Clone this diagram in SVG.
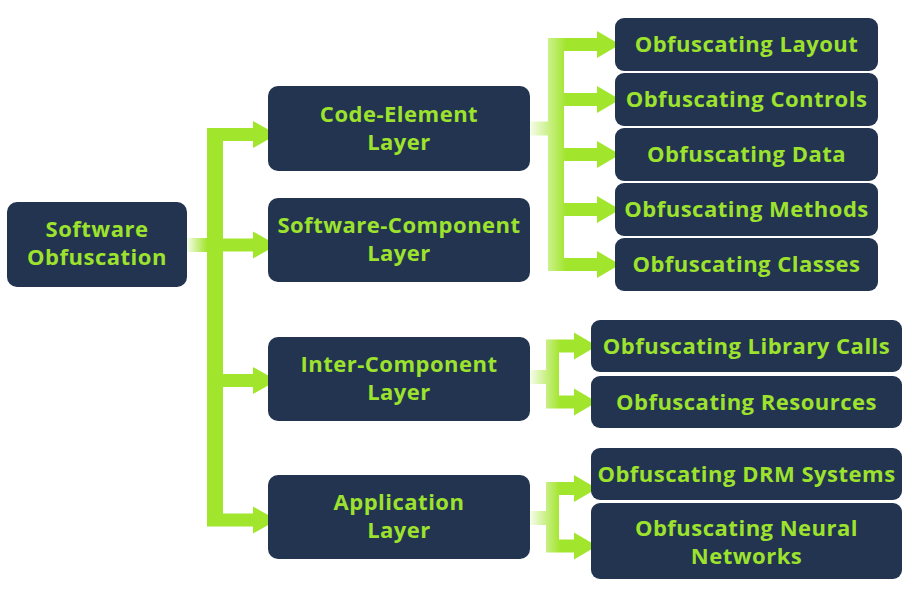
<svg xmlns="http://www.w3.org/2000/svg" width="920" height="596" viewBox="0 0 920 596">
<defs>
<linearGradient id="gRoot" gradientUnits="userSpaceOnUse" x1="187" y1="0" x2="207" y2="0">
<stop offset="0" stop-color="#a2e52d" stop-opacity="0.1"/><stop offset="1" stop-color="#a2e52d"/>
</linearGradient>
<linearGradient id="gR1" gradientUnits="userSpaceOnUse" x1="530" y1="0" x2="566" y2="0">
<stop offset="0" stop-color="#a2e52d" stop-opacity="0.1"/><stop offset="1" stop-color="#a2e52d"/>
</linearGradient>
<linearGradient id="gR2" gradientUnits="userSpaceOnUse" x1="530" y1="0" x2="560" y2="0">
<stop offset="0" stop-color="#a2e52d" stop-opacity="0.1"/><stop offset="1" stop-color="#a2e52d"/>
</linearGradient>
</defs>
<style>
.node rect{fill:#223450;}
.node text{fill:#9de22d;font-family:"Open Sans","Noto Sans","DejaVu Sans",sans-serif;font-weight:700;font-size:22px;letter-spacing:0.5px;text-anchor:middle;}
.solid{fill:#a2e52d;}
</style>
<rect width="920" height="596" fill="#ffffff"/>
<g id="connectors">
<rect x="187" y="238" width="20" height="14" fill="url(#gRoot)"/>
<path class="solid" d="M207 128 H223 V526.5 H207 Z
M223 128 H253 V141 H223 Z M253 121 L277 134.5 L253 148 Z
M223 238.5 H253 V251.5 H223 Z M253 231.5 L277 245 L253 258.5 Z
M223 374 H253 V387 H223 Z M253 367 L277 380.5 L253 394 Z
M223 513.5 H253 V526.5 H223 Z M253 506.5 L277 520 L253 533.5 Z"/>
<path fill="url(#gR1)" d="M530 121.5 H548 V135.5 H530 Z
M548 38 H564 V271 H548 Z
M564 38 H597 V51 H564 Z M597 31 L620 44.5 L597 58 Z
M564 93 H597 V106 H564 Z M597 86 L620 99.5 L597 113 Z
M564 148 H597 V161 H564 Z M597 141 L620 154.5 L597 168 Z
M564 203 H597 V216 H564 Z M597 196 L620 209.5 L597 223 Z
M564 258 H597 V271 H564 Z M597 251 L620 264.5 L597 278 Z"/>
<path fill="url(#gR2)" d="M530 370 H546 V384 H530 Z
M546 339.5 H559 V408.5 H546 Z
M559 339.5 H574 V352.5 H559 Z M574 332.5 L597 346 L574 359.5 Z
M559 395.5 H574 V408.5 H559 Z M574 388.5 L597 402 L574 415.5 Z
M530 511 H546 V525 H530 Z
M546 482 H559 V552.5 H546 Z
M559 482 H574 V495 H559 Z M574 475 L597 488.5 L574 502 Z
M559 539.5 H574 V552.5 H559 Z M574 532.5 L597 546 L574 559.5 Z"/>
</g>
<g id="root" class="node"><rect x="7" y="202" width="180" height="85" rx="10"/><text x="97" y="237">Software</text><text x="97" y="265">Obfuscation</text></g>
<g id="code-element" class="node"><rect x="268" y="86" width="262" height="85" rx="10"/><text x="399" y="122">Code-Element</text><text x="399" y="150">Layer</text></g>
<g id="software-component" class="node"><rect x="268" y="198" width="262" height="84" rx="10"/><text x="399" y="233">Software-Component</text><text x="399" y="261">Layer</text></g>
<g id="inter-component" class="node"><rect x="268" y="337" width="262" height="84" rx="10"/><text x="399" y="372">Inter-Component</text><text x="399" y="400">Layer</text></g>
<g id="application" class="node"><rect x="268" y="475" width="262" height="84" rx="10"/><text x="399" y="510">Application</text><text x="399" y="538">Layer</text></g>
<g id="layout" class="node"><rect x="615" y="18" width="263" height="53" rx="9"/><text x="746.5" y="52">Obfuscating Layout</text></g>
<g id="controls" class="node"><rect x="615" y="73" width="263" height="53" rx="9"/><text x="746.5" y="107">Obfuscating Controls</text></g>
<g id="data" class="node"><rect x="615" y="128" width="263" height="53" rx="9"/><text x="746.5" y="162">Obfuscating Data</text></g>
<g id="methods" class="node"><rect x="615" y="183" width="263" height="53" rx="9"/><text x="746.5" y="217">Obfuscating Methods</text></g>
<g id="classes" class="node"><rect x="615" y="238" width="263" height="53" rx="9"/><text x="746.5" y="272">Obfuscating Classes</text></g>
<g id="library-calls" class="node"><rect x="591" y="320" width="311" height="52" rx="9"/><text x="746.5" y="353.5">Obfuscating Library Calls</text></g>
<g id="resources" class="node"><rect x="591" y="376" width="311" height="52" rx="9"/><text x="746.5" y="409.5">Obfuscating Resources</text></g>
<g id="drm" class="node"><rect x="591" y="448" width="311" height="52" rx="9"/><text x="746.5" y="481.5">Obfuscating DRM Systems</text></g>
<g id="neural" class="node"><rect x="591" y="503" width="311" height="76" rx="9"/><text x="746.5" y="536">Obfuscating Neural</text><text x="746.5" y="564">Networks</text></g>
</svg>
